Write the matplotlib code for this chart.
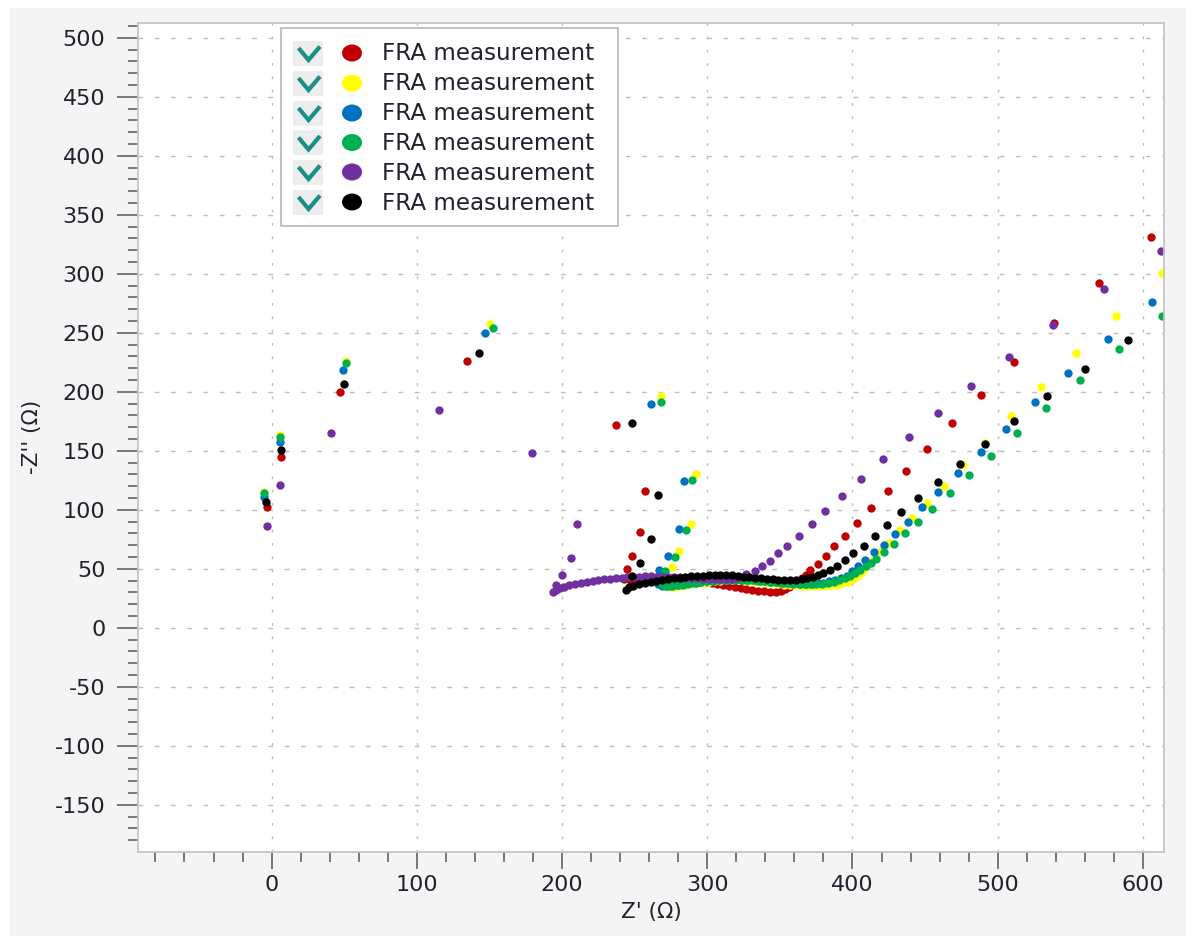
import matplotlib
matplotlib.use("Agg")
import matplotlib.pyplot as plt
from matplotlib.patches import Rectangle, Ellipse
from matplotlib.ticker import MultipleLocator, FuncFormatter

# ---------------- data (Z' , -Z'') ----------------
series_names = ["FRA measurement"] * 6
series_colors = ["#c00000", "#ffff00", "#0070c0", "#00b050", "#7030a0", "#000000"]

red_pts = [(-3, 102), (6.5, 144.5), (47, 199.5), (134.5, 226), (237, 172), (257, 116), (254, 81), (248.5, 61), (245, 50),
           (243, 41), (247, 40.5), (251, 40.8), (255, 41.3), (259, 41.8), (263, 42.2), (267, 42.4), (271, 42.5), (275, 42.4),
           (279, 42.2), (283, 41.8), (287, 41.3), (291, 40.6), (295, 39.9), (299, 39.1), (303, 38.3), (307, 37.4), (311, 36.5),
           (315, 35.6), (319, 34.7), (323, 33.8), (327, 33), (331, 32.2), (335, 31.5), (339, 31), (343, 30.7), (347, 30.8),
           (350.5, 31.6), (353.5, 33), (356.5, 35), (359.5, 37.3), (362.5, 39.8), (365, 42), (368, 45),
           (371, 48.6), (376, 54.2), (382, 60.8), (387.5, 69), (394.5, 78), (403, 89), (412.5, 101.7), (424.5, 115.8),
           (437, 132.8), (451, 151.7), (468.5, 173.5), (488.5, 197.7), (511.5, 225), (539, 258), (569.5, 292), (605.5, 331)]

yellow_pts = [(-5, 115), (5.7, 163), (51, 226), (150.5, 257.5), (268, 196.5), (292, 130.5), (288.5, 88), (280.5, 65), (276, 51.5),
              (270, 40), (270.5, 36.5), (273, 35), (277, 35), (281, 35.5), (285, 36.2), (289, 37), (293, 37.7), (297, 38.4),
              (301, 39), (305, 39.5), (309, 39.9), (313, 40.2), (317, 40.3), (321, 40.2), (325, 40), (329, 39.6), (333, 39.1),
              (337, 38.6), (341, 38.1), (345, 37.6), (349, 37.1), (353, 36.7), (357, 36.3), (361, 36), (365, 35.8), (369, 35.6),
              (373, 35.5), (377, 35.4), (381, 35.5), (385, 35.9), (389, 36.6), (393, 37.6), (397, 39.2), (400.5, 41.3),
              (403.5, 44), (406.5, 47.5), (409.5, 51.5), (412.8, 56), (416.3, 61), (420.3, 66.3), (425, 72.2), (432.8, 82.5),
              (441, 93.5), (451.3, 105.6), (462.8, 120.3), (475.8, 137.6), (491.2, 157), (509, 179.4), (529.7, 204.5),
              (553.7, 232.5), (581.2, 264.4), (612.8, 300.5)]

blue_pts = [(-5, 111), (5.7, 157.5), (49.2, 218.5), (146.6, 250), (261.4, 190), (284, 124.5), (280.4, 83.5), (273, 61), (267, 49),
            (265, 40.5), (266, 37), (268.5, 35.3), (272, 35.2), (276, 35.7), (280, 36.3), (284, 37), (288, 37.7), (292, 38.4),
            (296, 39), (300, 39.6), (304, 40.1), (308, 40.5), (312, 40.8), (316, 41), (320, 41), (324, 40.9), (328, 40.7),
            (332, 40.4), (336, 40), (340, 39.6), (344, 39.2), (348, 38.8), (352, 38.4), (356, 38), (360, 37.7), (364, 37.5),
            (368, 37.4), (372, 37.5), (376, 37.8), (380, 38.4), (384, 39.3), (388, 40.6), (392, 42.3), (396, 44.3), (400, 47.8),
            (403.6, 52.5), (408.9, 57.6), (415.1, 64), (421.5, 70.6), (429.3, 79.6), (438.2, 90.1), (447.9, 102), (459.1, 115.2),
            (472.6, 131.1), (488.4, 149.1), (505.8, 168.9), (525.5, 191.2), (548.7, 216.1), (576, 244.7), (606.4, 275.7)]

green_pts = [(-5, 114), (5.7, 161.5), (51.3, 224.5), (152.3, 254.3), (268.3, 191.3), (289.8, 125.2), (285.2, 83), (277.7, 60.2), (271, 47.8),
             (268, 40.5), (268.5, 37), (271, 35.5), (275, 35.5), (279, 36), (283, 36.6), (287, 37.3), (291, 38), (295, 38.7),
             (299, 39.3), (303, 39.8), (307, 40.2), (311, 40.5), (315, 40.7), (319, 40.8), (323, 40.7), (327, 40.5), (331, 40.2),
             (335, 39.8), (339, 39.4), (343, 39), (347, 38.6), (351, 38.2), (355, 37.8), (359, 37.5), (363, 37.2), (367, 37),
             (371, 37), (375, 37.1), (379, 37.5), (383, 38.2), (387, 39.2), (391, 40.5), (395, 42.2), (398.5, 44), (402, 46.3),
             (405.5, 49), (409, 52), (412.5, 55.2), (416.3, 58.3), (422, 64.2), (428.6, 71.3), (436.2, 80), (444.9, 89.6),
             (455, 100.6), (466.9, 114.2), (479.9, 129.2), (495.1, 145.8), (513.2, 164.8), (533.3, 186.2), (556.7, 209.7),
             (583.5, 236), (613.3, 264.5)]

purple_pts = [(-3, 86.5), (5.7, 121), (41.2, 165.5), (115, 184.3), (179.6, 148), (210.5, 88), (206.2, 59.4), (200, 44.5), (195.9, 36.2),
              (194, 30), (196, 31.8), (198.5, 33.5), (201.5, 34.8), (205, 35.9), (209, 36.9), (213, 37.8), (217, 38.7), (221, 39.5),
              (225, 40.3), (229, 41), (233, 41.6), (237, 42.2), (241, 42.6), (245, 43), (249, 43.3), (253, 43.5), (257, 43.6),
              (261, 43.6), (265, 43.5), (269, 43.4), (273, 43.2), (277, 43), (281, 42.8), (285, 42.5), (289, 42.3), (293, 42),
              (297, 41.8), (301, 41.6), (305, 41.4), (309, 41.3), (313, 41.3), (317, 41.5), (320.5, 42.2), (323.5, 43.5), (327, 45.3),
              (332.6, 48.4), (337.5, 52.1), (343.4, 56.8), (348.9, 63), (355.1, 69.6), (363.1, 77.8), (371.8, 87.9), (381, 99),
              (392.9, 111.7), (405.9, 126.4), (421, 143), (438.7, 161.4), (458.9, 182), (481.8, 204.6), (508.1, 229.7),
              (538.4, 256.6), (573, 286.8), (612.1, 319)]

black_pts = [(-4, 106.5), (6.2, 150.5), (49.7, 207), (142.5, 232.7), (248, 173.2), (266, 112.7), (261, 75.2), (253.8, 54.9), (248, 44),
             (244, 32), (246, 34.2), (249, 35.8), (253, 37), (257, 38), (261, 39), (265, 39.9), (269, 40.7), (273, 41.4), (277, 42),
             (281, 42.6), (285, 43.1), (289, 43.6), (293, 44), (297, 44.3), (301, 44.6), (305, 44.8), (309, 44.8), (313, 44.7),
             (317, 44.4), (321, 44), (325, 43.5), (329, 43), (333, 42.5), (337, 42), (341, 41.5), (345, 41.1), (349, 40.8),
             (353, 40.6), (357, 40.5), (361, 40.6), (365, 41.1), (369, 42), (373, 43.3), (376.5, 44.8),
             (379.5, 46.4), (384.2, 49), (389.2, 52.3), (394.7, 57.4), (400.5, 63.1), (407.6, 69.6), (415.6, 77.8), (423.8, 87.1),
             (433.7, 97.8), (445.1, 110), (458.7, 123.8), (474, 139), (491.2, 156), (511.1, 175.2), (533.8, 196.1),
             (559.9, 219.3), (589.7, 244.1)]

all_series = [red_pts, yellow_pts, blue_pts, green_pts, purple_pts, black_pts]

x_label = "Z' (\u03a9)"
y_label = "-Z'' (\u03a9)"

# ---------------- styling ----------------
plt.rcParams["font.family"] = ["DejaVu Sans"]
plt.rcParams["lines.scale_dashes"] = False
plt.rcParams["axes.unicode_minus"] = False

W, H = 1186, 936
TXT = "#22222e"
fig = plt.figure(figsize=(W / 100, H / 100), dpi=100, facecolor="white")
fig.patches.append(Rectangle((9 / W, 0), 1, 1 - 8 / H, transform=fig.transFigure,
                             facecolor="#f4f4f4", edgecolor="none", zorder=-10))

L, R, T, B = 138, 1164, 23, 851.5
ax = fig.add_axes([L / W, 1 - B / H, (R - L) / W, (B - T) / H])
ax.set_facecolor("white")

for pts, col in zip(all_series, series_colors):
    xs, ys = zip(*pts)
    ax.plot(xs, ys, linestyle="none", marker="o", markersize=6.0, markeredgewidth=0,
            color=col)

ax.set_xlim(-92, 614.5)
ax.set_ylim(-189.5, 512.5)
ax.xaxis.set_major_locator(MultipleLocator(100))
ax.xaxis.set_minor_locator(MultipleLocator(20))
ax.yaxis.set_major_locator(MultipleLocator(50))
ax.yaxis.set_minor_locator(MultipleLocator(10))
fmt = FuncFormatter(lambda v, p: "%d" % round(v))
ax.xaxis.set_major_formatter(fmt)
ax.yaxis.set_major_formatter(fmt)

for s in ax.spines.values():
    s.set_color("#c6c6c6")
    s.set_linewidth(1.3)

ax.tick_params(axis="y", which="major", direction="out", length=15, width=1.1,
               color="#555555", labelsize=16, labelcolor=TXT, pad=8.5)
ax.tick_params(axis="y", which="minor", direction="out", length=7.2, width=1.1, color="#555555")
ax.tick_params(axis="x", which="major", direction="out", length=12.2, width=1.1,
               color="#555555", labelsize=16, labelcolor=TXT, pad=5)
ax.tick_params(axis="x", which="minor", direction="out", length=7.2, width=1.1, color="#555555")

ax.grid(which="major", axis="x", color="#bdbdbd", linewidth=1.0, linestyle=(0, (2, 7.6)))
ax.grid(which="major", axis="y", color="#bdbdbd", linewidth=1.0, linestyle=(0, (3.4, 8.3)))
ax.set_axisbelow(True)

ax.set_xlabel(x_label, fontsize=15.5, color=TXT)
ax.set_ylabel(y_label, fontsize=15.5, color=TXT)
ax.xaxis.set_label_coords(0.5, -(902 - B) / (B - T))
ax.yaxis.set_label_coords((42 - L) / (R - L), 0.5)

# ---------------- legend (check box + dot + text) ----------------
LX0, LX1, LY0, LY1 = 281, 618, 28, 226
lax = fig.add_axes([LX0 / W, 1 - LY1 / H, (LX1 - LX0) / W, (LY1 - LY0) / H])
lax.set_xlim(LX0, LX1)
lax.set_ylim(LY1, LY0)
lax.axis("off")
lax.add_patch(Rectangle((LX0, LY0), LX1 - LX0, LY1 - LY0, facecolor="white",
                        edgecolor="#bcbcbc", linewidth=1.3, clip_on=False))
row_y = [53, 83, 113, 142.5, 172, 202]
for yy, col, name in zip(row_y, series_colors, series_names):
    lax.add_patch(Rectangle((293, yy - 12.5), 30, 25, facecolor="#ededed", edgecolor="none"))
    lax.plot([298.5, 308.5, 320], [yy - 5, yy + 7, yy - 6.5], color="#17908c", linewidth=3.0,
             solid_joinstyle="miter", solid_capstyle="butt")
    lax.add_patch(Ellipse((352, yy), 20, 17, facecolor=col, edgecolor="none"))
    lax.text(382, yy + 1, name, fontsize=16.6, color=TXT, ha="left", va="center")

fig.savefig("out.png", dpi=100, facecolor=fig.get_facecolor())
